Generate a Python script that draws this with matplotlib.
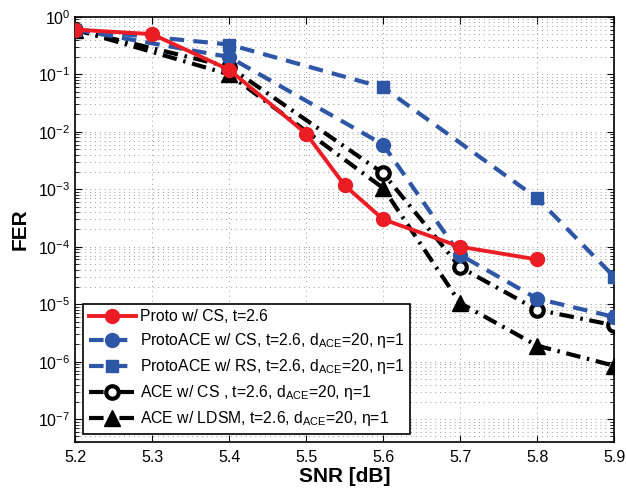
import numpy as np
import matplotlib
matplotlib.use("Agg")
import matplotlib.pyplot as plt
from matplotlib.ticker import FixedLocator, LogLocator, FuncFormatter, NullFormatter

plt.rcParams["font.family"] = ["Liberation Sans", "DejaVu Sans"]
plt.rcParams["mathtext.default"] = "regular"

# data
snr_proto = [5.2, 5.3, 5.4, 5.5, 5.55, 5.6, 5.7, 5.8]
fer_proto = [0.6, 0.5, 0.12, 9.3e-3, 1.17e-3, 3.0e-4, 1.0e-4, 6.0e-5]

snr_pace_cs = [5.2, 5.4, 5.6, 5.7, 5.8, 5.9]
fer_pace_cs = [0.6, 0.2, 6.0e-3, 7.2e-5, 1.25e-5, 6.0e-6]

snr_pace_rs = [5.2, 5.4, 5.6, 5.8, 5.9]
fer_pace_rs = [0.6, 0.33, 0.059, 7.0e-4, 3.0e-5]

snr_ace_cs = [5.2, 5.4, 5.6, 5.7, 5.8, 5.9]
fer_ace_cs = [0.6, 0.135, 1.9e-3, 4.4e-5, 8.0e-6, 4.3e-6]

snr_ace_ldsm = [5.2, 5.4, 5.6, 5.7, 5.8, 5.9]
fer_ace_ldsm = [0.6, 0.1, 1.05e-3, 1.05e-5, 1.9e-6, 8.5e-7]

labels = [
    "Proto w/ CS, t=2.6",
    "ProtoACE w/ CS, t=2.6, d$_{ACE}$=20, η=1",
    "ProtoACE w/ RS, t=2.6, d$_{ACE}$=20, η=1",
    "ACE w/ CS , t=2.6, d$_{ACE}$=20, η=1",
    "ACE w/ LDSM, t=2.6, d$_{ACE}$=20, η=1",
]

red = "#ec1c24"
blue = "#2e56a6"

fig = plt.figure(figsize=(6.26, 4.95), dpi=100)
ax = fig.add_axes([0.120, 0.107, 0.861, 0.859])

ax.plot(snr_proto, fer_proto, "-", color=red, lw=2.8, marker="o", ms=10,
        mfc=red, mec=red, label=labels[0], zorder=5)
ax.plot(snr_pace_cs, fer_pace_cs, color=blue, lw=3, dashes=(3.5, 2.2), marker="o", ms=10,
        mfc=blue, mec=blue, label=labels[1], zorder=4)
ax.plot(snr_pace_rs, fer_pace_rs, color=blue, lw=3, dashes=(3.5, 2.2), marker="s", ms=9,
        mfc=blue, mec=blue, label=labels[2], zorder=4)
ax.plot(snr_ace_cs, fer_ace_cs, color="black", lw=3, dashes=(3.5, 1.6, 0.6, 1.6), marker="o", ms=9,
        mfc="white", mec="black", mew=3, label=labels[3], zorder=3)
ax.plot(snr_ace_ldsm, fer_ace_ldsm, color="black", lw=3, dashes=(3.5, 1.6, 0.6, 1.6), marker="^", ms=11,
        mfc="black", mec="black", label=labels[4], zorder=3)

ax.set_yscale("log")
ax.set_xlim(5.2, 5.9)
ax.set_ylim(4e-8, 1)
ax.xaxis.set_major_locator(FixedLocator([5.2, 5.3, 5.4, 5.5, 5.6, 5.7, 5.8, 5.9]))
ax.xaxis.set_major_formatter(FuncFormatter(lambda v, p: f"{v:.1f}"))
ax.yaxis.set_major_locator(FixedLocator([10.0 ** k for k in range(-7, 1)]))
ax.yaxis.set_major_formatter(FuncFormatter(lambda v, p: r"$10^{%d}$" % round(np.log10(v))))
ax.yaxis.set_minor_locator(LogLocator(base=10, subs=np.arange(2, 10), numticks=20))
ax.yaxis.set_minor_formatter(NullFormatter())

ax.tick_params(which="both", direction="in", top=True, right=True, labelsize=11.5, color="black")
ax.tick_params(which="major", length=5)
ax.tick_params(which="minor", length=3)
ax.tick_params(axis="x", pad=6)

ax.grid(True, which="major", color="#999999", lw=0.7, dashes=(1, 4))
ax.grid(True, which="minor", axis="y", color="#999999", lw=0.7, dashes=(1, 4))
for s in ax.spines.values():
    s.set_linewidth(1.2)

ax.set_xlabel("SNR [dB]", fontsize=15, fontweight="bold", labelpad=1)
ax.set_ylabel("FER", fontsize=15, fontweight="bold", labelpad=6)

leg = ax.legend(loc="lower left", bbox_to_anchor=(0.015, 0.019), borderaxespad=0,
                fontsize=11.3, handlelength=3.0, labelspacing=0.45, borderpad=0.35,
                handletextpad=0.25, fancybox=False, framealpha=1, edgecolor="black")
leg.get_frame().set_linewidth(1.2)

fig.savefig("out.png", dpi=100)
